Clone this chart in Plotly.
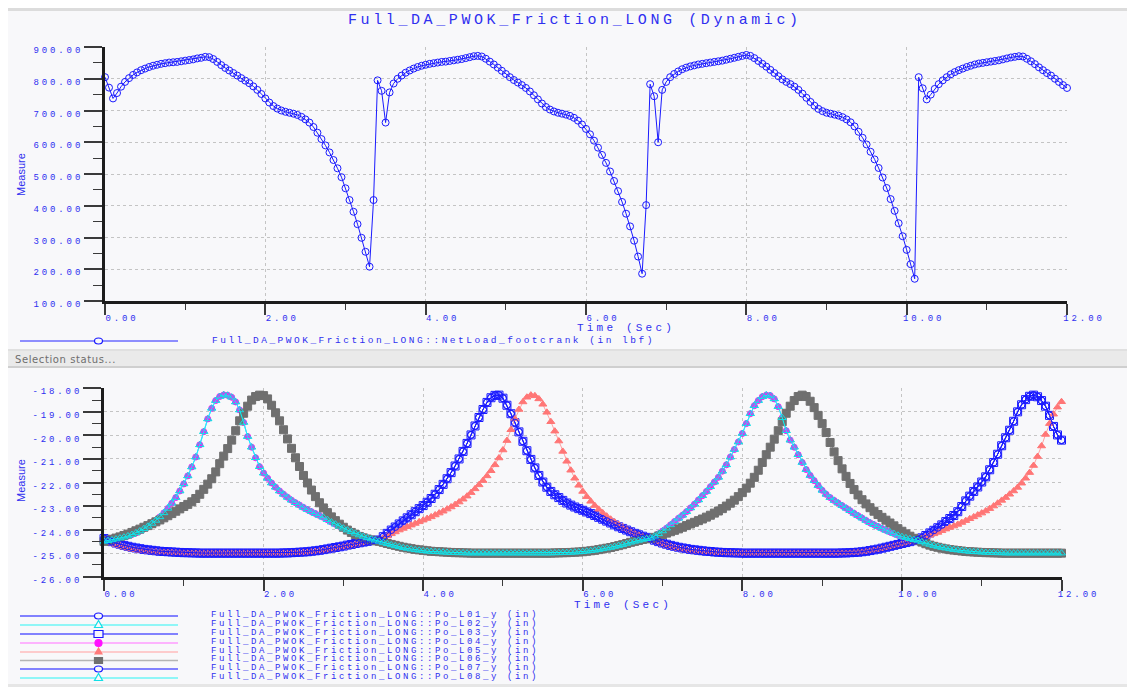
import plotly.graph_objects as go

# The page body keeps its default 8 px margin, so the figure starts at screen (8, 8).
OFF = 8
W, H = 1135 - OFF, 687 - OFF

# ---------------- data ----------------
# sample times: 0.00 .. 12.00 s every 0.05 s
time_s = [round(i * 0.05, 2) for i in range(241)]

# top chart: NetLoad_footcrank (lbf)
net_load = [
    805, 772, 738, 755, 775, 790, 802, 812, 820, 827,
    832, 837, 841, 844, 847, 849, 851, 852, 853, 855,
    857, 859, 861, 864, 866, 869, 868, 862, 853, 843,
    834, 826, 818, 810, 802, 794, 786, 776, 765, 752,
    738, 725, 714, 706, 700, 696, 693, 690, 686, 680,
    672, 662, 648, 630, 610, 590, 568, 544, 518, 490,
    455, 418, 381, 342, 299, 255, 208,
    418,
    795, 762, 662, 757, 785, 800, 810, 819, 826, 832,
    837, 841, 844, 847, 849, 851, 853, 854, 856, 858,
    860, 862, 865, 868, 871, 872, 870, 863, 854, 845,
    835, 825, 815, 805, 796, 788, 780, 771, 760, 748,
    735, 722, 711, 703, 697, 693, 690, 687, 683, 677,
    668, 656, 642, 625, 605, 583, 560, 535, 508, 478,
    446, 412, 375, 335, 290, 240, 186,
    402,
    783, 745, 600, 765, 790, 805, 815, 823, 830, 835,
    839, 842, 845, 847, 849, 851, 853, 855, 857, 860,
    863, 866, 869, 872, 875, 872, 865, 856, 847, 838,
    828, 818, 808, 798, 790, 783, 775, 765, 753, 740,
    727, 715, 705, 698, 693, 690, 687, 684, 679, 672,
    663, 650, 633, 614, 593, 570, 546, 519, 489, 456,
    421, 384, 345, 304, 261, 216, 170,
    805, 770, 735, 750, 768, 783, 795, 805, 814, 821,
    827, 832, 837, 841, 845, 848, 850, 852, 854, 856,
    858, 861, 864, 867, 869, 871, 870, 863, 855, 846,
    836, 827, 818, 810, 800, 790, 780, 771,
]

# bottom chart: foot y-positions (in); four distinct paths
path_early_swing = [  # magenta / cyan path (peaks ~1.5 s and ~8.3 s)
    -24.50, -24.47, -24.44, -24.40, -24.36, -24.32, -24.27, -24.21, -24.14, -24.06,
    -23.96, -23.86, -23.74, -23.61, -23.46, -23.29, -23.10, -22.88, -22.64, -22.36,
    -22.06, -21.72, -21.34, -20.92, -20.40, -19.84, -19.30, -18.85, -18.52, -18.35,
    -18.28, -18.30, -18.38, -18.58, -18.92, -19.45, -20.05, -20.50, -20.95, -21.33,
    -21.60, -21.82, -22.02, -22.20, -22.36, -22.50, -22.63, -22.75, -22.86, -22.96,
    -23.06, -23.15, -23.24, -23.32, -23.40, -23.48, -23.58, -23.68, -23.77, -23.86,
    -23.94, -24.02, -24.09, -24.16, -24.23, -24.29, -24.35, -24.40, -24.45, -24.50,
    -24.55, -24.60, -24.65, -24.69, -24.73, -24.77, -24.80, -24.83, -24.86, -24.88,
    -24.90, -24.92, -24.93, -24.94, -24.95, -24.96, -24.97, -24.98, -24.98, -24.99,
    -24.99, -25.00,
    -25.00, -25.00, -25.00, -25.00, -25.00, -25.00, -25.00, -25.00, -25.00, -25.00,
    -25.00, -25.00, -25.00, -25.00, -25.00, -25.00, -25.00, -25.00, -25.00,
    -25.00, -25.00, -24.99, -24.99, -24.98, -24.98, -24.97, -24.96, -24.95, -24.94,
    -24.92, -24.90, -24.88, -24.85, -24.82, -24.79, -24.76, -24.72, -24.68, -24.64,
    -24.59, -24.54, -24.50, -24.46, -24.42, -24.39,
    -24.36, -24.28, -24.18, -24.06, -23.94, -23.80, -23.66, -23.52, -23.39, -23.24,
    -23.08, -22.92, -22.74, -22.56, -22.38, -22.18, -21.98, -21.78, -21.52, -21.25,
    -20.92, -20.60, -20.28, -19.92, -19.50, -19.08, -18.74, -18.52, -18.36, -18.29,
    -18.31, -18.45, -18.78, -19.25, -19.80, -20.20, -20.50, -20.82, -21.15, -21.45,
    -21.70, -21.92, -22.13, -22.33, -22.50, -22.64, -22.76, -22.87, -22.98, -23.09,
    -23.20, -23.31, -23.41, -23.51, -23.61, -23.71, -23.79, -23.87, -23.95, -24.03,
    -24.10, -24.17, -24.24, -24.30, -24.35, -24.39, -24.43, -24.46,
    -24.52, -24.58, -24.63, -24.68, -24.72, -24.76, -24.79, -24.82, -24.85, -24.87,
    -24.89, -24.91, -24.93, -24.94, -24.95, -24.96, -24.97, -24.98, -24.98, -24.99,
    -24.99, -25.00, -25.00, -25.00, -25.00, -25.00, -25.00, -25.00, -25.00, -25.00,
    -25.00, -25.00, -25.00, -25.00, -25.00, -25.00,
]

path_late_swing = [  # gray path (peaks ~1.95 s and ~8.75 s)
    -24.50, -24.45, -24.41, -24.36, -24.31, -24.25, -24.19, -24.12, -24.05, -23.98,
    -23.90, -23.83, -23.75, -23.67, -23.59, -23.50, -23.41, -23.32, -23.22, -23.12,
    -23.02, -22.93, -22.82, -22.68, -22.50, -22.29, -22.07, -21.84, -21.55, -21.20,
    -20.88, -20.56, -20.20, -19.80, -19.38, -19.06, -18.76, -18.50, -18.35, -18.29,
    -18.31, -18.45, -18.72, -19.04, -19.38, -19.76, -20.15, -20.55, -20.95, -21.32,
    -21.70, -22.02, -22.32, -22.60, -22.86, -23.08, -23.28, -23.46, -23.62, -23.77,
    -23.90, -24.02, -24.12, -24.21, -24.29, -24.35, -24.40, -24.44, -24.47, -24.50,
    -24.54, -24.59, -24.63, -24.67, -24.71, -24.75, -24.78, -24.81, -24.84, -24.86,
    -24.88, -24.90, -24.92, -24.93, -24.94, -24.95, -24.96, -24.97, -24.98, -24.98,
    -24.99, -24.99,
    -25.00, -25.00, -25.00, -25.00, -25.00, -25.00, -25.00, -25.00, -25.00, -25.00,
    -25.00, -25.00, -25.00, -25.00, -25.00, -25.00, -25.00, -25.00, -25.00,
    -25.00, -25.00, -24.99, -24.99, -24.98, -24.98, -24.97, -24.96, -24.95, -24.94,
    -24.92, -24.90, -24.88, -24.85, -24.82, -24.79, -24.76, -24.72, -24.68, -24.64,
    -24.59, -24.54, -24.50, -24.46, -24.42, -24.39,
    -24.38, -24.33, -24.27, -24.21, -24.15, -24.09, -24.03, -23.97, -23.90, -23.83,
    -23.76, -23.69, -23.62, -23.55, -23.47, -23.39, -23.30, -23.21, -23.11, -23.00,
    -22.88, -22.75, -22.60, -22.43, -22.24, -22.03, -21.78, -21.48, -21.15, -20.82,
    -20.50, -20.16, -19.80, -19.42, -19.06, -18.76, -18.52, -18.35, -18.29, -18.35,
    -18.55, -18.82, -19.15, -19.50, -19.88, -20.30, -20.70, -21.07, -21.42, -21.74,
    -22.04, -22.30, -22.53, -22.73, -22.91, -23.07, -23.22, -23.36, -23.48, -23.60,
    -23.72, -23.84, -23.96, -24.07, -24.18, -24.28, -24.37, -24.45,
    -24.53, -24.60, -24.66, -24.71, -24.75, -24.79, -24.82, -24.85, -24.87, -24.89,
    -24.91, -24.93, -24.94, -24.95, -24.96, -24.97, -24.98, -24.98, -24.99, -24.99,
    -25.00, -25.00, -25.00, -25.00, -25.00, -25.00, -25.00, -25.00, -25.00, -25.00,
    -25.00, -25.00, -25.00, -25.00, -25.00, -25.00,
]

path_blue_swing = [  # blue-square path (peaks ~4.95 s and ~11.65 s)
    -24.38, -24.45, -24.51, -24.57, -24.62, -24.67, -24.71, -24.75, -24.78, -24.81,
    -24.84, -24.86, -24.88, -24.90, -24.92, -24.93, -24.94, -24.95, -24.96, -24.97,
    -24.98, -24.98, -24.99, -24.99,
    -25.00, -25.00, -25.00, -25.00, -25.00, -25.00, -25.00, -25.00, -25.00, -25.00,
    -25.00, -25.00, -25.00, -25.00, -25.00, -25.00, -25.00, -25.00, -25.00, -25.00,
    -25.00,
    -24.99, -24.99, -24.98, -24.97, -24.96, -24.95, -24.94, -24.92, -24.90, -24.88,
    -24.85, -24.82, -24.79, -24.76, -24.73, -24.70, -24.66, -24.63, -24.59, -24.56,
    -24.53, -24.50, -24.47, -24.45,
    -24.45, -24.30, -24.16, -24.02, -23.89, -23.76, -23.63, -23.50, -23.37, -23.24,
    -23.11, -22.98, -22.84, -22.68, -22.50, -22.30, -22.08, -21.84, -21.58, -21.30,
    -21.00, -20.68, -20.34, -19.98, -19.60, -19.24, -18.90, -18.60, -18.40, -18.30,
    -18.29,
    -18.42, -18.72, -19.08, -19.46, -19.85, -20.25, -20.65, -21.02, -21.38, -21.70,
    -21.98, -22.20, -22.38, -22.52, -22.64, -22.76, -22.87, -22.96, -23.04, -23.11,
    -23.18, -23.25, -23.32, -23.40, -23.48, -23.56, -23.64, -23.72, -23.80, -23.88,
    -23.95, -24.02, -24.09, -24.16, -24.22, -24.28, -24.33, -24.38,
    -24.45, -24.51, -24.57, -24.62, -24.67, -24.71, -24.75, -24.78, -24.81, -24.84,
    -24.86, -24.88, -24.90, -24.92, -24.93, -24.95, -24.96, -24.97, -24.98, -24.98,
    -24.99, -24.99,
    -25.00, -25.00, -25.00, -25.00, -25.00, -25.00, -25.00, -25.00, -25.00, -25.00,
    -25.00, -25.00, -25.00, -25.00, -25.00, -25.00, -25.00, -25.00, -25.00, -25.00,
    -25.00, -25.00, -25.00, -25.00, -25.00,
    -24.99, -24.99, -24.98, -24.97, -24.96, -24.94, -24.92, -24.89, -24.86, -24.83,
    -24.79, -24.75, -24.71, -24.67, -24.63, -24.59, -24.55, -24.51, -24.47,
    -24.43, -24.35, -24.25, -24.14, -24.03, -23.92, -23.80, -23.66, -23.53, -23.40,
    -23.24, -23.02, -22.78, -22.58, -22.38, -22.19, -21.98, -21.76, -21.46, -21.15,
    -20.80, -20.44, -20.10, -19.78, -19.40, -19.00, -18.70, -18.48, -18.34, -18.29,
    -18.36, -18.52, -18.76, -19.15, -19.62, -19.98, -20.20,
]

path_salmon_swing = [  # salmon path (peaks ~5.35 s and past 12 s)
    -24.42, -24.50, -24.57, -24.63, -24.69, -24.74, -24.78, -24.82, -24.85, -24.88,
    -24.90, -24.92, -24.94, -24.95, -24.96, -24.97, -24.98, -24.98, -24.99, -24.99,
    -25.00, -25.00, -25.00, -25.00, -25.00, -25.00, -25.00, -25.00, -25.00, -25.00,
    -25.00, -25.00, -25.00, -25.00, -25.00, -25.00, -25.00, -25.00, -25.00, -25.00,
    -25.00, -25.00, -25.00, -25.00, -25.00,
    -25.00, -25.00, -24.99, -24.99, -24.98, -24.97, -24.96, -24.95, -24.93, -24.91,
    -24.89, -24.86, -24.83, -24.80, -24.77, -24.74, -24.70, -24.67, -24.63, -24.60,
    -24.56, -24.53, -24.50, -24.47,
    -24.45, -24.36, -24.27, -24.18, -24.10, -24.02, -23.95, -23.88, -23.81, -23.74,
    -23.67, -23.60, -23.53, -23.46, -23.38, -23.30, -23.22, -23.13, -23.04, -22.94,
    -22.83, -22.71, -22.58, -22.43, -22.27, -22.10, -21.92, -21.72, -21.50, -21.25,
    -20.96, -20.62, -20.22, -19.76, -19.30, -18.90, -18.58, -18.38, -18.29,
    -18.32, -18.45, -18.68, -19.02, -19.42, -19.82, -20.24, -20.68, -21.10, -21.48,
    -21.82, -22.12, -22.38, -22.60, -22.80, -22.98, -23.14, -23.29, -23.43, -23.56,
    -23.68, -23.79, -23.89, -23.98, -24.07, -24.15, -24.22, -24.28, -24.33, -24.38,
    -24.46, -24.53, -24.60, -24.66, -24.71, -24.76, -24.80, -24.83, -24.86, -24.89,
    -24.91, -24.93, -24.94, -24.95, -24.96, -24.97, -24.98, -24.98, -24.99, -24.99,
    -25.00, -25.00,
    -25.00, -25.00, -25.00, -25.00, -25.00, -25.00, -25.00, -25.00, -25.00, -25.00,
    -25.00, -25.00, -25.00, -25.00, -25.00, -25.00, -25.00, -25.00, -25.00, -25.00,
    -25.00, -25.00, -25.00, -25.00, -25.00,
    -24.99, -24.99, -24.98, -24.97, -24.96, -24.95, -24.93, -24.90, -24.87, -24.84,
    -24.81, -24.77, -24.73, -24.69, -24.65, -24.61, -24.57, -24.53, -24.49,
    -24.42, -24.36, -24.30, -24.24, -24.18, -24.12, -24.05, -23.98, -23.91, -23.85,
    -23.78, -23.70, -23.62, -23.54, -23.46, -23.38, -23.30, -23.21, -23.11, -23.00,
    -22.88, -22.76, -22.64, -22.50, -22.36, -22.21, -22.03, -21.82, -21.58, -21.28,
    -20.90, -20.45, -19.96, -19.50, -19.10, -18.80, -18.57,
]

po_l01_y = path_blue_swing
po_l02_y = path_early_swing
po_l03_y = path_blue_swing
po_l04_y = path_early_swing
po_l05_y = path_salmon_swing
po_l06_y = path_late_swing
po_l07_y = path_blue_swing
po_l08_y = path_early_swing

for _name, _arr in [("net_load", net_load), ("early", path_early_swing),
                    ("late", path_late_swing), ("blue", path_blue_swing),
                    ("salmon", path_salmon_swing)]:
    if len(_arr) != len(time_s):
        raise SystemExit(f"{_name} has {len(_arr)} values")

x_tick_vals = [0, 2, 4, 6, 8, 10, 12]
x_tick_text = ["0.00", "2.00", "4.00", "6.00", "8.00", "10.00", "12.00"]
y1_tick_vals = [100, 200, 300, 400, 500, 600, 700, 800, 900]
y1_tick_text = ["100.00", "200.00", "300.00", "400.00", "500.00",
                "600.00", "700.00", "800.00", "900.00"]
y2_tick_vals = [-26, -25, -24, -23, -22, -21, -20, -19, -18]
y2_tick_text = ["-26.00", "-25.00", "-24.00", "-23.00", "-22.00",
                "-21.00", "-20.00", "-19.00", "-18.00"]

title_text = "Full_DA_PWOK_Friction_LONG (Dynamic)"
top_legend_text = "Full_DA_PWOK_Friction_LONG::NetLoad_footcrank (in lbf)"
bottom_legend_text = ["Full_DA_PWOK_Friction_LONG::Po_L0%d_y (in)" % i for i in range(1, 9)]

# ---------------- styling ----------------
TXT = "#2f2ff0"
PANEL = "#f8f8fa"
MONO = "Liberation Mono"
BLUE = "#1a1aff"
CYAN = "#12dfe6"


def px(x):
    # screen x (reference pixels) -> paper fraction
    return (x - OFF) / W


def py(y):
    # screen y (reference pixels) -> paper fraction
    return 1 - (y - OFF) / H


def spaced(t, ls):
    return "<span style='letter-spacing:%.1fpx'>%s</span>" % (ls, t)


fig = go.Figure()

fig.add_trace(go.Scatter(
    x=time_s, y=net_load, xaxis="x", yaxis="y", mode="lines+markers",
    line=dict(color=BLUE, width=1),
    marker=dict(symbol="circle-open", size=7, color=BLUE, line=dict(width=1)),
    cliponaxis=False, showlegend=False, hoverinfo="skip"))

series_style = [
    (po_l01_y, BLUE, "circle-open", 7, BLUE),
    (po_l02_y, "#00ffff", "triangle-up-open", 7, CYAN),
    (po_l03_y, BLUE, "square-open", 8, BLUE),
    (po_l04_y, "#ff80ff", "circle", 6, "#f022f0"),
    (po_l05_y, "#ffa0a0", "triangle-up", 7, "#ff7676"),
    (po_l06_y, "#a0a0a0", "square", 8, "#6f6f6f"),
    (po_l07_y, BLUE, "circle-open", 7, BLUE),
    (po_l08_y, "#00ffff", "triangle-up-open", 7, CYAN),
]
for vals, lcol, sym, size, mcol in series_style:
    fig.add_trace(go.Scatter(
        x=time_s, y=vals, xaxis="x2", yaxis="y2", mode="lines+markers",
        line=dict(color=lcol, width=1),
        marker=dict(symbol=sym, size=size, color=mcol, line=dict(width=1, color=mcol)),
        cliponaxis=False, showlegend=False, hoverinfo="skip"))

axis_common = dict(
    showline=True, linewidth=3, linecolor="#1c1c1c",
    ticks="outside", tickcolor="#3a3a3a", tickwidth=1.5,
    showgrid=True, gridcolor="#c4c4c4", griddash="dot", gridwidth=1,
    zeroline=False, fixedrange=True, automargin=False,
    tickfont=dict(family=MONO, size=9, color=TXT),
)

xcommon = dict(axis_common, range=[0, 12], tickmode="array", tickvals=x_tick_vals,
               ticktext=[spaced(t, 2.9) for t in x_tick_text], ticklen=11,
               ticklabelshift=17, ticklabelstandoff=-5,
               minor=dict(tickmode="linear", tick0=0, dtick=1, ticks="outside",
                          ticklen=6, tickcolor="#3a3a3a", tickwidth=1.2, showgrid=False))

ycommon = dict(axis_common, tickmode="array", ticklen=18, ticklabelshift=3,
               ticklabelstandoff=-1)

fig.update_layout(
    width=W, height=H, autosize=False,
    margin=dict(l=0, r=0, t=0, b=0, pad=0),
    paper_bgcolor=PANEL, plot_bgcolor=PANEL,
    xaxis=dict(xcommon, domain=[px(105), px(1067)], anchor="y"),
    yaxis=dict(ycommon, domain=[py(301), py(47)], anchor="x", range=[100, 900],
               tickvals=y1_tick_vals,
               ticktext=[spaced(t, 2.9) for t in y1_tick_text],
               minor=dict(tickmode="linear", tick0=100, dtick=50, ticks="outside",
                          ticklen=9, tickcolor="#3a3a3a", tickwidth=1.2, showgrid=False)),
    xaxis2=dict(xcommon, domain=[px(104), px(1061.5)], anchor="y2"),
    yaxis2=dict(ycommon, domain=[py(576.7), py(388.3)], anchor="x2", range=[-26, -18],
                tickvals=y2_tick_vals,
                ticktext=[spaced(t, 2.9) for t in y2_tick_text],
                minor=dict(tickmode="linear", tick0=-26, dtick=0.5, ticks="outside",
                           ticklen=9, tickcolor="#3a3a3a", tickwidth=1.2, showgrid=False)),
)

shapes = []
# top gray rule
shapes.append(dict(type="rect", xref="paper", yref="paper", layer="below",
                   x0=0, x1=1, y0=py(11), y1=1, fillcolor="#dcdcdc", line=dict(width=0)))
# selection status band
shapes.append(dict(type="rect", xref="paper", yref="paper", layer="below",
                   x0=0, x1=1, y0=py(367), y1=py(350), fillcolor="#eaeaea",
                   line=dict(width=0)))
shapes.append(dict(type="rect", xref="paper", yref="paper", layer="below",
                   x0=0, x1=1, y0=py(368), y1=py(366), fillcolor="#cfcfcf",
                   line=dict(width=0)))
shapes.append(dict(type="rect", xref="paper", yref="paper", layer="below",
                   x0=0, x1=1, y0=py(351), y1=py(349), fillcolor="#e0e0e0",
                   line=dict(width=0)))
# bottom gray rule
shapes.append(dict(type="rect", xref="paper", yref="paper", layer="below",
                   x0=0, x1=1, y0=0, y1=py(684), fillcolor="#e6e6e6",
                   line=dict(width=0)))


def leg_line(y, color):
    shapes.append(dict(type="line", xref="paper", yref="paper",
                       x0=px(20), x1=px(178), y0=py(y), y1=py(y),
                       line=dict(color=color, width=1.3)))


def leg_ellipse(y, color, filled=False, w=8, h=6):
    shapes.append(dict(type="circle", xref="paper", yref="paper",
                       x0=px(98.5 - w / 2), x1=px(98.5 + w / 2),
                       y0=py(y + h / 2), y1=py(y - h / 2),
                       fillcolor=color if filled else PANEL,
                       line=dict(color=color, width=1.2)))


def leg_rect(y, color, filled=False, w=9, h=7):
    shapes.append(dict(type="rect", xref="paper", yref="paper",
                       x0=px(98.5 - w / 2), x1=px(98.5 + w / 2),
                       y0=py(y + h / 2), y1=py(y - h / 2),
                       fillcolor=color if filled else PANEL,
                       line=dict(color=color, width=1.2)))


def leg_tri(y, color, filled=False, w=8, h=7):
    path = "M %f,%f L %f,%f L %f,%f Z" % (
        px(98.5), py(y - h / 2 - 1), px(98.5 - w / 2), py(y + h / 2 - 1),
        px(98.5 + w / 2), py(y + h / 2 - 1))
    shapes.append(dict(type="path", xref="paper", yref="paper", path=path,
                       fillcolor=color if filled else PANEL,
                       line=dict(color=color, width=1.2)))


# top legend sample
leg_line(341, "#6a6aff")
leg_ellipse(341, BLUE)

# bottom legend samples
leg_rows = [616, 625, 634, 643, 652, 660.5, 669, 678]
leg_line_cols = ["#5a5aff", "#6ef6f6", "#5a5aff", "#ff9cff", "#ffbcbc", "#b4b4b4",
                 "#5a5aff", "#6ef6f6"]
for yy, c in zip(leg_rows, leg_line_cols):
    leg_line(yy, c)
leg_ellipse(leg_rows[0], BLUE)
leg_tri(leg_rows[1], CYAN)
leg_rect(leg_rows[2], BLUE)
leg_ellipse(leg_rows[3], "#ff10ff", filled=True, w=7, h=7)
leg_tri(leg_rows[4], "#ff7a7a", filled=True, w=7, h=6)
leg_rect(leg_rows[5], "#707070", filled=True, w=8, h=6)
leg_ellipse(leg_rows[6], BLUE)
leg_tri(leg_rows[7], CYAN)

fig.update_layout(shapes=shapes)

ann = []


def text(x, y, t, size, ls, anchor="center", angle=0, family=MONO, color=TXT):
    ann.append(dict(xref="paper", yref="paper", x=px(x), y=py(y),
                    text=spaced(t, ls) if ls else t, showarrow=False,
                    xanchor=anchor, yanchor="middle", textangle=angle,
                    font=dict(family=family, size=size, color=color)))


text(575, 20, title_text, 15, 3.6)
text(21, 175, "Measure", 11, 0, angle=-90, family="Liberation Sans")
text(21, 481, "Measure", 11, 0, angle=-90, family="Liberation Sans")
text(626, 328, "Time (Sec)", 11, 3.2)
text(623, 605, "Time (Sec)", 11, 3.2)
text(210, 340.5, top_legend_text, 9.5, 2.5, anchor="left")
text(13, 359, "Selection status...", 10, 0.6, anchor="left",
     family="DejaVu Sans", color="#6e6e6e")
for yy, t in zip(leg_rows, bottom_legend_text):
    text(209, yy - 1.5, t, 9, 2.65, anchor="left")

fig.update_layout(annotations=ann)

fig.write_html("out.html")
